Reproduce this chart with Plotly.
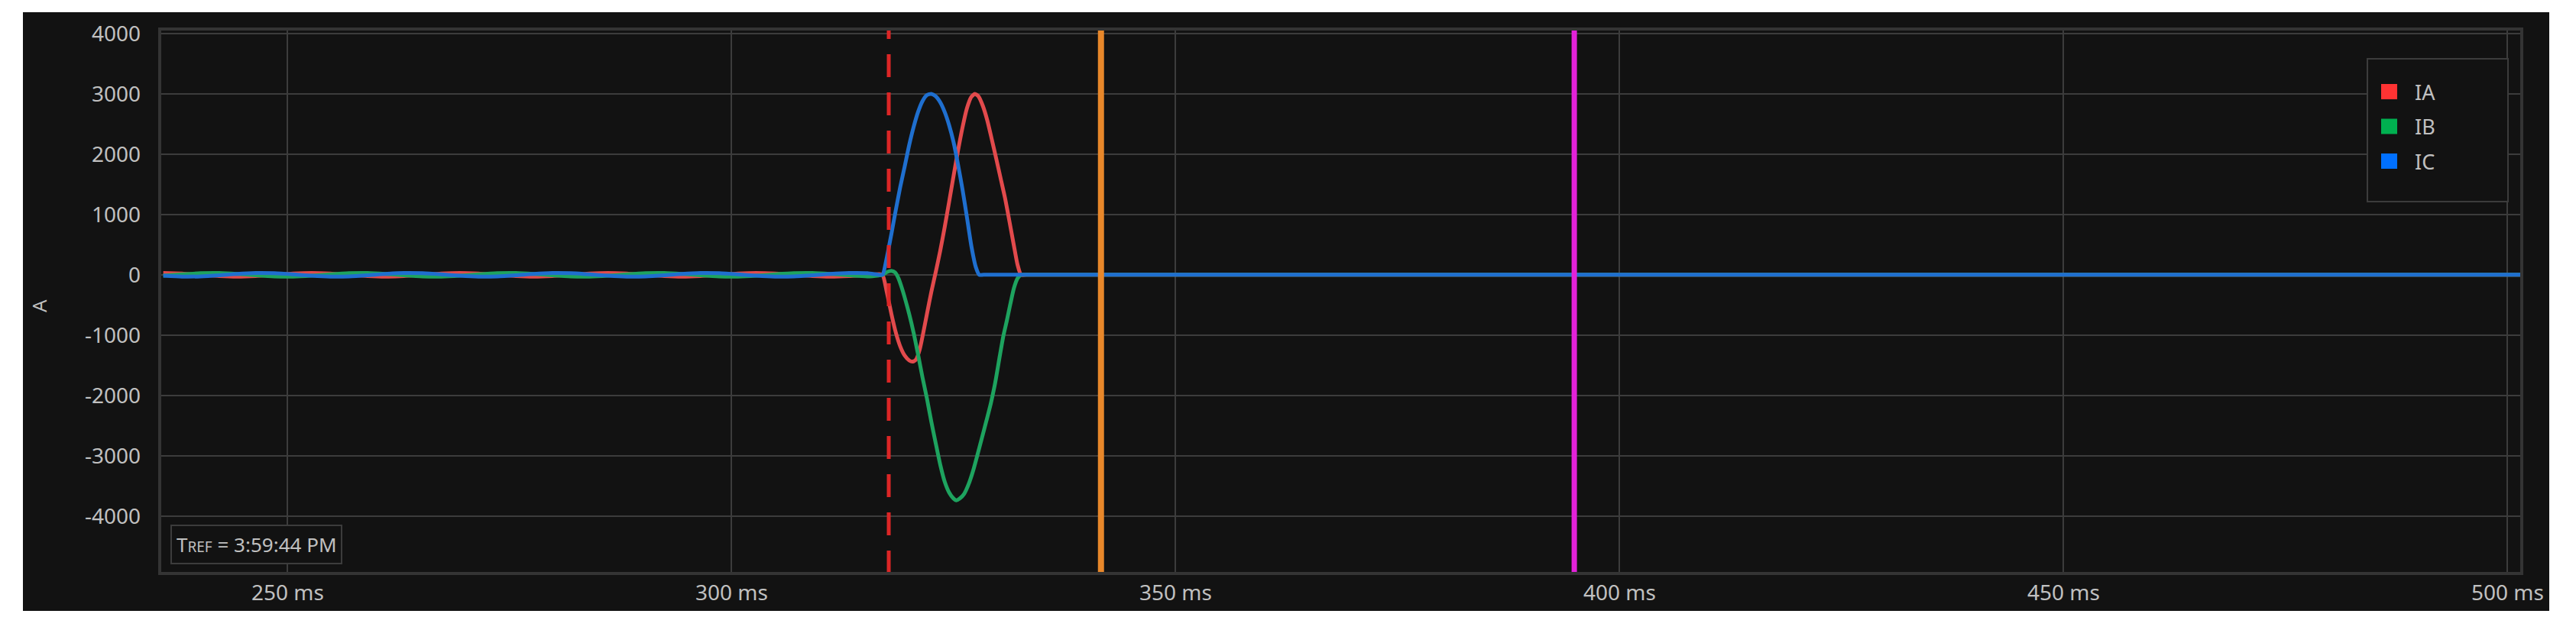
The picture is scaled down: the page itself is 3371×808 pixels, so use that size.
import plotly.graph_objects as go

# pre-fault ripple, shared time base (ms)
t_pre = [236.0, 238.1, 240.2, 242.3, 244.3, 246.4, 248.5, 250.6, 252.7, 254.8,
         256.9, 259.0, 261.0, 263.1, 265.2, 267.3, 269.4, 271.5, 273.6, 275.7,
         277.7, 279.8, 281.9, 284.0, 286.1, 288.2, 290.3, 292.4, 294.4, 296.5,
         298.6, 300.7, 302.8, 304.9, 307.0, 309.1, 311.1, 313.2, 315.3, 316.6]
ia_pre = [30, 21, 0, -21, -30, -21, 0, 21, 30, 21, 0, -21, -30, -21, 0, 21, 30, 21, 0, -21,
          -30, -21, 0, 21, 30, 21, 0, -21, -30, -21, 0, 21, 30, 21, 0, -21, -30, -21, 0, 10]
ib_pre = [-15, 8, 26, 29, 15, -8, -26, -29, -15, 8, 26, 29, 15, -8, -26, -29, -15, 8, 26, 29,
          15, -8, -26, -29, -15, 8, 26, 29, 15, -8, -26, -29, -15, 8, 26, 29, 15, -8, -26, -10]
ic_pre = [-15, -29, -26, -8, 15, 29, 26, 8, -15, -29, -26, -8, 15, 29, 26, 8, -15, -29, -26, -8,
          15, 29, 26, 8, -15, -29, -26, -8, 15, 29, 26, 8, -15, -29, -26, -8, 15, 29, 26, 0]

# fault and post-fault samples
ia_t = [317.0, 317.5, 318.0, 318.5, 319.0, 319.5, 320.0, 320.4, 320.8, 321.2, 321.6, 322.0,
        322.5, 323.0, 323.5, 324.0, 324.5, 325.0, 325.5, 326.0, 326.5, 327.0, 327.4, 327.8,
        328.3, 328.8, 329.3, 329.8, 330.3, 330.8, 331.3, 331.8, 332.2, 332.6, 333.2, 501.6]
ia_v = [0, -300, -650, -960, -1190, -1340, -1420, -1440, -1400, -1230, -950, -650,
        -280, 50, 400, 790, 1210, 1640, 2060, 2440, 2760, 2950, 3000, 2960,
        2800, 2560, 2250, 1930, 1600, 1270, 880, 480, 170, 0, 0, 0]

ib_t = [317.0, 317.5, 318.0, 318.4, 318.8, 319.2, 319.6, 320.0, 320.5, 321.0, 321.5, 322.0,
        322.5, 323.0, 323.5, 324.0, 324.5, 325.0, 325.3, 325.7, 326.2, 326.7, 327.2, 327.7,
        328.2, 328.7, 329.2, 329.7, 330.2, 330.6, 331.0, 331.4, 331.8, 332.2, 332.6, 333.2, 501.6]
ib_v = [0, 45, 65, 40, -60, -230, -430, -650, -960, -1320, -1700, -2050,
        -2440, -2800, -3150, -3430, -3610, -3710, -3740, -3710, -3630, -3470, -3250, -2980,
        -2700, -2420, -2130, -1780, -1350, -1020, -760, -480, -220, -60, 0, 0, 0]

ic_t = [317.0, 317.5, 318.0, 318.5, 319.0, 319.5, 320.0, 320.5, 321.0, 321.5, 322.0, 322.5,
        323.0, 323.5, 324.0, 324.5, 325.0, 325.5, 326.0, 326.5, 327.0, 327.5, 327.9, 328.4, 501.6]
ic_v = [0, 300, 680, 1080, 1460, 1800, 2150, 2450, 2700, 2880, 2980, 3000,
        2960, 2860, 2700, 2480, 2200, 1830, 1420, 960, 480, 130, 0, 0, 0]

phase_names = ["IA", "IB", "IC"]
line_colors = ["#e24a4c", "#1ea35f", "#1f6fcf"]
key_colors = ["#ff3333", "#00b050", "#0070ff"]

event_times = [317.7, 341.6, 394.9]
y_ticks = [-4000, -3000, -2000, -1000, 0, 1000, 2000, 3000, 4000]
x_ticks = [250, 300, 350, 400, 450, 500]
t_ref = "3:59:44 PM"

W, H = 3371, 808
L, R, T, B = 201, 3292, 30, 743
FONT = "Noto Sans"
TXT = "#c0c0c0"
BG = "#121212"
GRID = "#3c3c3c"


def px(x):
    return (x - L) / (R - L)


def py(y):
    return (B - y) / (B - T)


fig = go.Figure()

series = [
    (t_pre + ia_t, ia_pre + ia_v),
    (t_pre + ib_t, ib_pre + ib_v),
    (t_pre + ic_t, ic_pre + ic_v),
]
for (t, v), name, col in zip(series, phase_names, line_colors):
    fig.add_trace(go.Scatter(x=t, y=v, mode='lines', name=name,
                             line=dict(color=col, width=5, shape='spline', smoothing=0.6),
                             showlegend=False))

# dark panel behind everything
fig.add_shape(type="rect", xref="paper", yref="paper", x0=px(22), x1=px(3328), y0=py(792), y1=py(8),
              fillcolor=BG, line=dict(width=0), layer="below")

# event markers
ev_styles = [dict(color="#dc2626", width=5, dash="30px,20px"),
             dict(color="#e8872a", width=8),
             dict(color="#e322d9", width=7)]
for t, st in zip(event_times, ev_styles):
    fig.add_shape(type="line", xref="x", yref="paper", x0=t, x1=t, y0=0, y1=1, line=st)

# plot border
fig.add_shape(type="rect", xref="paper", yref="paper", x0=0, x1=1, y0=0, y1=1,
              line=dict(color="#343434", width=4))

# legend box
fig.add_shape(type="rect", xref="paper", yref="paper", x0=px(3090), x1=px(3274), y0=py(256), y1=py(69),
              fillcolor=BG, line=dict(color=GRID, width=2))
for i, (name, col) in enumerate(zip(phase_names, key_colors)):
    yc = 112 + i * 45.5
    fig.add_shape(type="rect", xref="paper", yref="paper", x0=px(3108), x1=px(3129),
                  y0=py(yc + 10), y1=py(yc - 10), fillcolor=col, line=dict(width=0))
    fig.add_annotation(x=px(3150), y=py(yc), xref="paper", yref="paper", text=name,
                       showarrow=False, xanchor="left", yanchor="middle",
                       font=dict(family=FONT, size=27, color=TXT))

# y axis title
fig.add_annotation(x=px(43), y=py(393), xref="paper", yref="paper", text="A", textangle=-90,
                   showarrow=False, xanchor="center", yanchor="middle",
                   font=dict(family=FONT, size=26, color=TXT))

# reference time box
fig.add_annotation(x=px(215), y=py(731), xref="paper", yref="paper",
                   text='T<span style="font-size:19px">REF</span> = ' + t_ref,
                   showarrow=False, xanchor="left", yanchor="bottom",
                   bgcolor=BG, bordercolor=GRID, borderwidth=2, borderpad=6,
                   font=dict(family=FONT, size=26, color=TXT))

fig.update_layout(
    width=W, height=H,
    margin=dict(l=L, r=W - R, t=T, b=H - B),
    paper_bgcolor="white",
    plot_bgcolor=BG,
    showlegend=False,
    font=dict(family=FONT, size=28, color=TXT),
    xaxis=dict(range=[235.6, 501.6], tickvals=x_ticks, ticktext=[f"{v} ms" for v in x_ticks],
               showgrid=True, gridcolor=GRID, gridwidth=2, zeroline=False, ticks="",
               ticklabelstandoff=6),
    yaxis=dict(range=[-4953, 4076], tickvals=y_ticks, ticktext=[str(v) for v in y_ticks],
               showgrid=True, gridcolor=GRID, gridwidth=2, zeroline=False, ticks="",
               ticklabelstandoff=24),
)

fig.write_html("out.html")
